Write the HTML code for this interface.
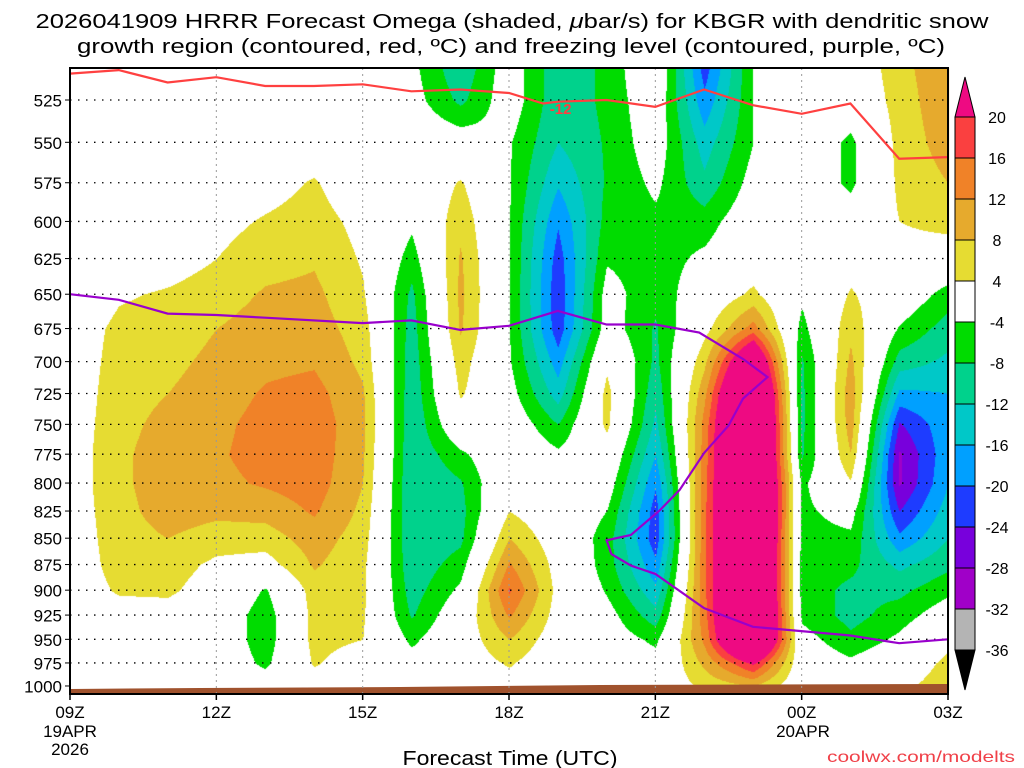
<!DOCTYPE html>
<html><head><meta charset="utf-8">
<style>
html,body{margin:0;padding:0;background:#fff;width:1024px;height:768px;overflow:hidden}
#wrap{position:relative;width:1024px;height:768px}
canvas,svg{position:absolute;left:0;top:0}
text{font-family:"Liberation Sans",sans-serif;fill:#000}
</style></head><body>
<div id="wrap">
<canvas id="cv" width="1024" height="768"></canvas>
<svg id="sv" width="1024" height="768"></svg>
</div>
<script>
// ---- data ----
const hours = ["09Z","10Z","11Z","12Z","13Z","14Z","15Z","16Z","17Z","18Z","19Z","20Z","21Z","22Z","23Z","00Z","01Z","02Z","03Z"];
const pressures = [500,525,550,575,600,625,650,675,700,725,750,775,800,825,850,875,900,925,950,975,1000];
// omega (µbar/s) per forecast hour, listed top (500) to bottom (1000 hPa)
const omega09 = [0,0,0,0,0,0,0.5,1.5,1.5,1.5,1.5,1.5,1.5,1.5,1.5,1.5,1.5,1,0,0,0];
const omega10 = [0,0,0,0,0,1,3.5,5,5.5,6,6.5,7,7,6.5,6,5.5,4.5,2,0,0,0];
const omega11 = [0,0,0,0,1,2,4.5,6,7,8,9.5,10.5,10.5,10,8,6,4.8,2,0,0,0];
const omega12 = [0,0,0,1,2.5,4,6,8,9,10,11,11.5,11,9,6,3,1.5,0,0,0,0];
const omega13 = [0,0,0,2,4.5,6.5,8.5,10,11,12.5,13.5,13.5,12.5,9.5,6,2,-4.5,-6.5,-6.5,-5,-1];
const omega14 = [0,0,1,4.5,6,7.5,9,10,11.5,13.5,14.5,14.5,14,12.5,10,8.5,6,5.5,5.5,4.5,1.5];
const omega15 = [0,0,0,0,2.5,3.5,4.5,6,7,8.5,9,8.5,8,7,6,5,5,4.5,4,1,0];
const omega16 = [-3,-2,0,-1,-3,-6,-9,-10,-10.5,-11,-11.5,-11.5,-12,-12,-11.5,-11,-10,-8.5,-5,-2,0];
const omega17 = [-12,-9,-1,4.5,7,8.5,9,8.5,6,4.5,1,-5,-8.5,-9.5,-9,-6,-3,0,1,1,0];
const omega18 = [-1,-1,-3.6,-3.6,-3.8,-3.8,-3.8,-3.8,-3.5,-2,0,1,2,4,8,12.5,16.5,12.5,8,4.5,2];
const omega19 = [-11,-11,-12,-15.5,-19.5,-22,-23,-22.5,-18,-14,-8,-3,-1,0,1,2,2.5,2,1,0,0];
const omega20 = [-7,-7,-7.5,-7.5,-6.5,-4.5,-2,-1.5,3,5.5,5,1.5,-1,-4,-6,-6,-4.5,-2,-1,0,0];
const omega21 = [2,0,-1,-3,-5,-6,-7,-8.5,-9,-11,-13,-16,-19.5,-22,-22.5,-19,-15,-10.5,-5,-2,0];
const omega22 = [-23,-19,-14,-11,-6,-3,0,2.5,7,11,13.5,14,14.5,15,15,15,15,14.5,13,9,5];
const omega23 = [-4,-4,-4,-2,0,1,5,14,32,42,45,45,45,45,45,45,45,45,42,21,8];
const omega00 = [0,0,0,0,0,-1,-3,-5.5,-8.5,-9,-9,-8.5,-5,-5,-5.5,-6,-6,-5,-2,0,0];
const omega01 = [0,-1,-5,-5,-1,2,4.5,7,9,10.5,10,8,3.5,-2,-5,-7,-9,-9.5,-7,-3,-1];
const omega02 = [7,6,5.5,5,4,2,0,-4.5,-10,-17,-24.5,-28.5,-28.5,-24,-19,-13,-9,-6,-3,1,3];
const omega03 = [11,11,10,8,5.5,1,-6,-10,-13,-16,-17,-17,-16,-14,-12,-9,-5,-1,3,5,6];
const omegaByHour = [omega09,omega10,omega11,omega12,omega13,omega14,omega15,omega16,omega17,omega18,omega19,omega20,omega21,omega22,omega23,omega00,omega01,omega02,omega03];
// dendritic growth zone (-12C) contour: hour offset, pressure
const dgzHours = [0,1,2,3,4,5,6,7,8,9,9.7,10,11,12,13,14,15,16,17,18];
const dgzPress = [510,508,515,512,517,517,516,520,519,521,527,526,525,529,519,528,533,527,560,559];
// freezing level contour
const frzHours = [0,1,2,3,4,6,7,8,9,10,11,12,12.9,13.8,14.3,13.8,13.5,13,12.5,12.1,11.5,11,11.1,11.5,12,13,14,16,17,18];
const frzPress = [650,654,664,665,667,671,669,676,673,662,672,672,678,698,712,729,751,774,806,824,847,852,865,876,884,918,937,946,954,950];
const cbLevels = [-36,-32,-28,-24,-20,-16,-12,-8,-4,4,8,12,16,20];
const cbColors = ["#000000","#b4b4b4","#a000c8","#7800dc","#1e3cff","#00a0ff","#00c8c8","#00d28c","#00dc00","#ffffff","#e6dc32","#e6aa2d","#f08228","#fa4040","#ee0a82"];

// ---- axes ----
const X0=70, X1=948, Y0=68, YB=694;
const xScale = h => X0 + h*(X1-X0)/18;
const yScale = p => 100 + 909.4*Math.log(p/525);
const pFromY = y => 525*Math.exp((y-100)/909.4);

(function(){
function rgb(h){return [parseInt(h.substr(1,2),16),parseInt(h.substr(3,2),16),parseInt(h.substr(5,2),16)];}
const cbRGB = cbColors.map(rgb);
function colorIdx(v){let i=0;while(i<cbLevels.length&&v>=cbLevels[i])i++;return i;}
const cv=document.getElementById('cv'),ctx=cv.getContext('2d');
const img=ctx.createImageData(1024,768);
for(let y=Y0;y<=690;y++){
  const p=pFromY(y);let r=(p-pressures[0])/25;r=Math.max(0,Math.min(pressures.length-1.0001,r));
  const r0=Math.floor(r),fRow=r-r0;
  for(let x=X0;x<=X1;x++){
    let h=(x-X0)/((X1-X0)/18);h=Math.max(0,Math.min(17.9999,h));
    const h0=Math.floor(h),fh=h-h0;
    const a=omegaByHour[h0][r0],b=omegaByHour[h0+1][r0],c=omegaByHour[h0][r0+1],d=omegaByHour[h0+1][r0+1];
    const v=(a*(1-fh)+b*fh)*(1-fRow)+(c*(1-fh)+d*fh)*fRow;
    const col=cbRGB[colorIdx(v)];const k=(y*1024+x)*4;
    img.data[k]=col[0];img.data[k+1]=col[1];img.data[k+2]=col[2];img.data[k+3]=255;
  }
}
ctx.putImageData(img,0,0);

const NS="http://www.w3.org/2000/svg";const sv=document.getElementById('sv');
function el(tag,attrs,parent){const e=document.createElementNS(NS,tag);for(const k in attrs)e.setAttribute(k,attrs[k]);(parent||sv).appendChild(e);return e;}
function txt(s,attrs){const t=el('text',attrs);t.textContent=s;return t;}

const ground=el('polygon',{points:`${X0},689 200,688 400,687 600,685 ${X1},684 ${X1},${YB} ${X0},${YB}`,fill:"#a0522d"});



const yTicks=[525,550,575,600,625,650,675,700,725,750,775,800,825,850,875,900,925,950,975,1000];
yTicks.forEach(p=>{
  const y=yScale(p);
  if(p<1000){const g=el('line',{x1:X0,x2:X1,y1:y,y2:y,stroke:"#000","stroke-width":1.3,"stroke-dasharray":"1.5,6.5"});
  
  }
  const tk=el('line',{x1:X0-5,x2:X0,y1:y,y2:y,stroke:"#000","stroke-width":1});
  
  
  const t=txt(String(p),{x:62,y:y+6.5,"text-anchor":"end","font-size":17});
  
  
});
const xLabelHours=[0,3,6,9,12,15,18];
const xLabels=["09Z","12Z","15Z","18Z","21Z","00Z","03Z"];
xLabelHours.forEach((h,i)=>{
  const x=xScale(h);
  if(h>0&&h<18){const g=el('line',{x1:x,x2:x,y1:Y0,y2:YB,stroke:"#999","stroke-width":1,"stroke-dasharray":"2,4"});
  
  }
  const tk=el('line',{x1:x,x2:x,y1:YB,y2:YB+6,stroke:"#000","stroke-width":1.5});
  
  
  const t=txt(xLabels[i],{x:x,y:718,"text-anchor":"middle","font-size":17});
  
  
});
[["19APR",70,737],["2026",70,755],["20APR",803,737]].forEach(a=>{
  const t=txt(a[0],{x:a[1],y:a[2],"text-anchor":"middle","font-size":17});
  
  
});

function linePath(hs,ps){return hs.map((h,i)=>(i?"L":"M")+xScale(h).toFixed(1)+","+yScale(ps[i]).toFixed(1)).join(" ");}
const dgz=el('path',{d:linePath(dgzHours,dgzPress),fill:"none",stroke:"#ff4040","stroke-width":2.2});


const dl=txt("-12",{x:xScale(10)-8,y:yScale(529)+7,"font-size":15,"font-weight":"bold",style:"fill:#ff4040"});


const frz=el('path',{d:linePath(frzHours,frzPress),fill:"none",stroke:"#9900cc","stroke-width":2.2});



const frame=el('rect',{x:X0,y:Y0,width:X1-X0,height:YB-Y0,fill:"none",stroke:"#000","stroke-width":2});



const cbX=955,cbW=20,cbTop=117,cbH=41;
const cbg=el('g',{});


const overTri=el('polygon',{points:`${cbX},${cbTop} ${cbX+cbW},${cbTop} ${cbX+cbW/2},77`,fill:cbColors[14],stroke:"#000","stroke-width":1},cbg);


for(let i=13;i>=1;i--){
  const y=cbTop+(13-i)*cbH;
  const r=el('rect',{x:cbX,y:y,width:cbW,height:cbH,fill:cbColors[i],stroke:"#000","stroke-width":1},cbg);
  
  
}
const botY=cbTop+13*cbH;
const underTri=el('polygon',{points:`${cbX},${botY} ${cbX+cbW},${botY} ${cbX+cbW/2},${botY+40}`,fill:cbColors[0],stroke:"#000","stroke-width":1},cbg);


cbLevels.forEach((lv,i)=>{
  const y=cbTop+(13-i)*cbH;
  const t=txt(String(lv),{x:997,y:y+6,"text-anchor":"middle","font-size":16});
  
  
});

const t1=el('text',{x:512,y:28,"text-anchor":"middle","font-size":20,textLength:953,lengthAdjust:"spacingAndGlyphs"});


t1.innerHTML='2026041909 HRRR Forecast Omega (shaded, <tspan font-style="italic">μ</tspan>bar/s) for KBGR with dendritic snow';
const t2=txt("growth region (contoured, red, ºC) and freezing level (contoured, purple, ºC)",{x:511,y:53,"text-anchor":"middle","font-size":20,textLength:868,lengthAdjust:"spacingAndGlyphs"});


const xt=txt("Forecast Time (UTC)",{x:510,y:765,"text-anchor":"middle","font-size":20,textLength:215,lengthAdjust:"spacingAndGlyphs"});


const cr=txt("coolwx.com/modelts",{x:827,y:762,"font-size":16,textLength:188,lengthAdjust:"spacingAndGlyphs",style:"fill:#f04048"});


})();
</script>
</body></html>
